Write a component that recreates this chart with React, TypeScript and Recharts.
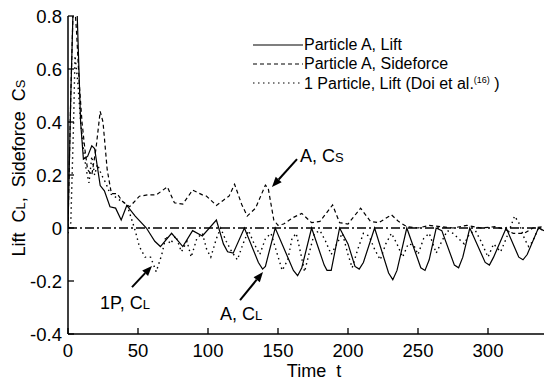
import React from 'react';
import { LineChart, Line, XAxis, YAxis, ReferenceLine, ReferenceDot, Legend } from 'recharts';

// Particle A, lift coefficient (solid)
const liftA = [
  { t: 0, v: 0 }, { t: 2, v: 0.5 }, { t: 4, v: 0.9 }, { t: 6, v: 0.9 }, { t: 9, v: 0.4 },
  { t: 11, v: 0.26 }, { t: 14, v: 0.27 }, { t: 17, v: 0.31 }, { t: 19, v: 0.3 }, { t: 23, v: 0.16 },
  { t: 26, v: 0.14 }, { t: 30, v: 0.08 }, { t: 34, v: 0.075 }, { t: 38, v: 0.03 }, { t: 42, v: 0.085 },
  { t: 48, v: 0.045 }, { t: 56, v: 0 }, { t: 62, v: -0.05 }, { t: 66, v: -0.07 }, { t: 74, v: -0.02 },
  { t: 82, v: -0.07 }, { t: 89, v: -0.01 }, { t: 96, v: -0.03 }, { t: 106, v: 0.03 }, { t: 111, v: -0.06 },
  { t: 114, v: -0.09 }, { t: 118, v: -0.095 }, { t: 126, v: 0 }, { t: 136, v: -0.13 }, { t: 139, v: -0.155 },
  { t: 141, v: -0.145 }, { t: 148, v: 0 }, { t: 161, v: -0.16 }, { t: 164, v: -0.18 }, { t: 167, v: -0.15 },
  { t: 174, v: 0 }, { t: 183, v: -0.14 }, { t: 185, v: -0.16 }, { t: 188, v: -0.16 }, { t: 194, v: 0 },
  { t: 200, v: -0.06 }, { t: 205, v: -0.145 }, { t: 208, v: -0.155 }, { t: 211, v: -0.13 }, { t: 219, v: 0 },
  { t: 229, v: -0.17 }, { t: 232, v: -0.195 }, { t: 235, v: -0.16 }, { t: 242, v: 0 }, { t: 252, v: -0.15 },
  { t: 255, v: -0.16 }, { t: 258, v: -0.12 }, { t: 263, v: 0 }, { t: 267, v: -0.01 }, { t: 276, v: -0.14 },
  { t: 279, v: -0.15 }, { t: 282, v: -0.11 }, { t: 287, v: 0 }, { t: 298, v: -0.13 }, { t: 301, v: -0.14 },
  { t: 304, v: -0.11 }, { t: 313, v: 0 }, { t: 322, v: -0.11 }, { t: 325, v: -0.12 }, { t: 328, v: -0.1 },
  { t: 336, v: 0 }, { t: 340, v: -0.01 },
];

// Particle A, sideforce coefficient (dashed)
const sideA = [
  { t: 0, v: 0 }, { t: 2, v: 0.5 }, { t: 4, v: 0.9 }, { t: 6, v: 0.75 }, { t: 8, v: 0.55 },
  { t: 10, v: 0.4 }, { t: 12, v: 0.3 }, { t: 14, v: 0.22 }, { t: 17, v: 0.2 }, { t: 20, v: 0.3 },
  { t: 23, v: 0.44 }, { t: 25, v: 0.4 }, { t: 28, v: 0.22 }, { t: 31, v: 0.13 }, { t: 35, v: 0.13 },
  { t: 39, v: 0.1 }, { t: 44, v: 0.08 }, { t: 51, v: 0.12 }, { t: 57, v: 0.125 }, { t: 63, v: 0.125 },
  { t: 71, v: 0.155 }, { t: 76, v: 0.095 }, { t: 82, v: 0.09 }, { t: 89, v: 0.143 }, { t: 96, v: 0.125 },
  { t: 99, v: 0.12 }, { t: 106, v: 0.085 }, { t: 111, v: 0.105 }, { t: 115, v: 0.12 }, { t: 119, v: 0.165 },
  { t: 124, v: 0.09 }, { t: 128, v: 0.045 }, { t: 134, v: 0.075 }, { t: 141, v: 0.162 }, { t: 143, v: 0.15 },
  { t: 147, v: 0.03 }, { t: 150, v: 0.01 }, { t: 154, v: 0.015 }, { t: 161, v: 0.04 }, { t: 167, v: 0.055 },
  { t: 174, v: 0.02 }, { t: 180, v: 0.025 }, { t: 189, v: 0.087 }, { t: 194, v: 0.02 }, { t: 200, v: 0.015 },
  { t: 209, v: 0.075 }, { t: 216, v: 0.025 }, { t: 222, v: 0.02 }, { t: 231, v: 0.05 }, { t: 236, v: 0.025 },
  { t: 242, v: 0.005 }, { t: 250, v: 0 }, { t: 258, v: 0.01 }, { t: 266, v: 0.005 }, { t: 275, v: 0 },
  { t: 285, v: 0.01 }, { t: 295, v: 0 }, { t: 305, v: 0.005 }, { t: 312, v: -0.005 }, { t: 318, v: -0.02 },
  { t: 326, v: -0.02 }, { t: 332, v: 0 }, { t: 340, v: 0.005 },
];

// 1 particle, lift (Doi et al.) (dotted)
const lift1P = [
  { t: 0, v: -0.02 }, { t: 2, v: 0.02 }, { t: 4, v: 0.4 }, { t: 5, v: 0.65 }, { t: 7, v: 0.55 },
  { t: 9, v: 0.4 }, { t: 11, v: 0.3 }, { t: 13, v: 0.22 }, { t: 15, v: 0.17 }, { t: 17, v: 0.27 },
  { t: 19, v: 0.2 }, { t: 21, v: 0.24 }, { t: 24, v: 0.2 }, { t: 27, v: 0.17 }, { t: 30, v: 0.13 },
  { t: 33, v: 0.12 }, { t: 37, v: 0.105 }, { t: 42, v: 0.09 }, { t: 45, v: 0.04 }, { t: 48, v: -0.01 },
  { t: 51, v: -0.07 }, { t: 55, v: -0.11 }, { t: 59, v: -0.11 }, { t: 63, v: -0.165 }, { t: 67, v: -0.1 },
  { t: 70, v: -0.03 }, { t: 73, v: -0.06 }, { t: 77, v: -0.03 }, { t: 81, v: -0.09 }, { t: 85, v: -0.05 },
  { t: 88, v: -0.11 }, { t: 92, v: -0.04 }, { t: 96, v: -0.02 }, { t: 99, v: -0.08 }, { t: 102, v: -0.11 },
  { t: 106, v: -0.04 }, { t: 109, v: 0 }, { t: 113, v: -0.05 }, { t: 117, v: -0.09 }, { t: 121, v: -0.12 },
  { t: 125, v: -0.06 }, { t: 129, v: -0.01 }, { t: 133, v: -0.06 }, { t: 137, v: -0.1 }, { t: 141, v: -0.04 },
  { t: 145, v: -0.02 }, { t: 149, v: -0.09 }, { t: 153, v: -0.16 }, { t: 157, v: -0.12 }, { t: 160, v: -0.04 },
  { t: 163, v: -0.02 }, { t: 166, v: -0.09 }, { t: 169, v: -0.165 }, { t: 172, v: -0.1 }, { t: 176, v: -0.02 },
  { t: 180, v: -0.01 }, { t: 184, v: -0.05 }, { t: 188, v: -0.1 }, { t: 192, v: -0.06 }, { t: 196, v: -0.02 },
  { t: 200, v: -0.1 }, { t: 203, v: -0.15 }, { t: 207, v: -0.08 }, { t: 211, v: -0.02 }, { t: 215, v: -0.03 },
  { t: 219, v: -0.08 }, { t: 223, v: -0.12 }, { t: 227, v: -0.06 }, { t: 231, v: -0.02 }, { t: 235, v: -0.06 },
  { t: 239, v: -0.11 }, { t: 243, v: -0.06 }, { t: 247, v: -0.065 }, { t: 250, v: -0.1 }, { t: 254, v: -0.04 },
  { t: 258, v: -0.02 }, { t: 263, v: -0.095 }, { t: 267, v: -0.05 }, { t: 271, v: -0.01 }, { t: 275, v: -0.02 },
  { t: 279, v: -0.04 }, { t: 283, v: -0.06 }, { t: 287, v: -0.02 }, { t: 291, v: -0.01 }, { t: 295, v: -0.05 },
  { t: 300, v: -0.11 }, { t: 304, v: -0.06 }, { t: 309, v: -0.09 }, { t: 313, v: -0.04 }, { t: 319, v: 0.045 },
  { t: 322, v: 0.02 }, { t: 326, v: -0.04 }, { t: 329, v: -0.07 }, { t: 332, v: -0.05 }, { t: 336, v: 0 },
  { t: 340, v: -0.01 },
];

const xTicks = [0, 50, 100, 150, 200, 250, 300];
const yTicks = [-0.4, -0.2, 0, 0.2, 0.4, 0.6, 0.8];

const FONT = '"Liberation Sans", Arial, Helvetica, sans-serif';
const SP = '\u00A0';

const BottomTick = ({ x, y, payload }: any) => (
  <g>
    <line x1={x} y1={y} x2={x} y2={y - 6} stroke="#000" strokeWidth={1.3} />
    <text x={x} y={y + 23} textAnchor="middle" fontSize={18.5} fontFamily={FONT} fill="#000">{payload.value}</text>
  </g>
);
const TopTick = ({ x, y }: any) => <line x1={x} y1={y} x2={x} y2={y + 6} stroke="#000" strokeWidth={1.3} />;
const LeftTick = ({ x, y, payload }: any) => (
  <g>
    <line x1={x} y1={y} x2={x + 6} y2={y} stroke="#000" strokeWidth={1.3} />
    <text x={x - 6} y={y + 7} textAnchor="end" fontSize={18.5} fontFamily={FONT} fill="#000">{String(payload.value)}</text>
  </g>
);
const RightTick = ({ x, y }: any) => <line x1={x} y1={y} x2={x - 6} y2={y} stroke="#000" strokeWidth={1.3} />;

const Arrow = ({ x1, y1, x2, y2 }: any) => {
  const a = Math.atan2(y2 - y1, x2 - x1);
  const L = 10, W = 4;
  const bx = x2 - L * Math.cos(a), by = y2 - L * Math.sin(a);
  const p1 = `${bx + W * Math.sin(a)},${by - W * Math.cos(a)}`;
  const p2 = `${bx - W * Math.sin(a)},${by + W * Math.cos(a)}`;
  return (
    <g>
      <line x1={x1} y1={y1} x2={bx} y2={by} stroke="#000" strokeWidth={2} />
      <polygon points={`${x2},${y2} ${p1} ${p2}`} fill="#000" />
    </g>
  );
};

const noteLabel = (main: string, sub: string) => ({ cx, cy }: any) => (
  <text x={cx} y={cy + 7} fontSize={18} fontFamily={FONT} fill="#000">
    {main}<tspan fontSize={13}>{sub}</tspan>
  </text>
);

const YLabel = () => (
  <text x={25} y={168} transform="rotate(-90, 25, 168)" textAnchor="middle" fontSize={18} fontFamily={FONT} fill="#000">
    {`Lift${SP}${SP}C`}<tspan fontSize={13}>L</tspan>{`,${SP}${SP}Sideforce${SP}${SP}C`}<tspan fontSize={13}>S</tspan>
  </text>
);
const XLabel = () => (
  <text x={314} y={377} textAnchor="middle" fontSize={18} fontFamily={FONT} fill="#000">{`Time${SP}${SP}t`}</text>
);

const legendItems = [
  { dash: undefined, label: <>Particle A, Lift</> },
  { dash: '4 3', label: <>Particle A, Sideforce</> },
  { dash: '1.5 3.5', label: <>1 Particle, Lift (Doi et al.<sup style={{ fontSize: 9 }}>(16)</sup> )</> },
];

const LegendBox = () => (
  <div style={{ fontFamily: FONT, fontSize: 16, color: '#000' }}>
    {legendItems.map((it, i) => (
      <div key={i} style={{ display: 'flex', alignItems: 'center', height: 19, whiteSpace: 'nowrap' }}>
        <svg width={52} height={19}>
          <line x1={1} y1={10} x2={51} y2={10} stroke="#000" strokeWidth={1.2} strokeDasharray={it.dash} />
        </svg>
        <span style={{ lineHeight: '19px' }}>{it.label}</span>
      </div>
    ))}
  </div>
);

export default function App() {
  return (
    <div style={{ position: 'absolute', left: 0, top: 0, background: '#fff' }}>
      <LineChart width={545} height={381} margin={{ top: 16, right: 1, left: 0, bottom: 0 }}>
        <XAxis dataKey="t" type="number" domain={[0, 340]} ticks={xTicks} allowDataOverflow
          height={47} tickSize={0} tickMargin={0} tick={<BottomTick />} tickLine={false}
          axisLine={{ stroke: '#000', strokeWidth: 1.5 }} label={{ content: <XLabel /> }} />
        <XAxis xAxisId="top" orientation="top" type="number" domain={[0, 340]} ticks={xTicks} allowDataOverflow
          height={0} tickSize={0} tickMargin={0} tick={<TopTick />} tickLine={false}
          axisLine={{ stroke: '#000', strokeWidth: 1.5 }} />
        <YAxis type="number" domain={[-0.4, 0.8]} ticks={yTicks} allowDataOverflow
          width={68} tickSize={0} tickMargin={0} tick={<LeftTick />} tickLine={false}
          axisLine={{ stroke: '#000', strokeWidth: 1.5 }} label={{ content: <YLabel /> }} />
        <YAxis yAxisId="right" orientation="right" type="number" domain={[-0.4, 0.8]} ticks={yTicks} allowDataOverflow
          width={0} tickSize={0} tickMargin={0} tick={<RightTick />} tickLine={false}
          axisLine={{ stroke: '#000', strokeWidth: 1.5 }} />
        <ReferenceLine y={0} stroke="#000" strokeWidth={1.6} strokeDasharray="9 3 2 3" />
        <Line data={lift1P} dataKey="v" type="linear" stroke="#000" strokeWidth={1.4}
          strokeDasharray="1.5 3.5" dot={false} isAnimationActive={false} />
        <Line data={sideA} dataKey="v" type="linear" stroke="#000" strokeWidth={1.2}
          strokeDasharray="4 3" dot={false} isAnimationActive={false} />
        <Line data={liftA} dataKey="v" type="linear" stroke="#000" strokeWidth={1.2}
          dot={false} isAnimationActive={false} />
        <ReferenceLine segment={[{ x: 163.6, y: 0.26 }, { x: 145.7, y: 0.155 }]} shape={<Arrow />} />
        <ReferenceLine segment={[{ x: 45.7, y: -0.223 }, { x: 60, y: -0.143 }]} shape={<Arrow />} />
        <ReferenceLine segment={[{ x: 122.9, y: -0.272 }, { x: 139.3, y: -0.166 }]} shape={<Arrow />} />
        <ReferenceDot x={165.7} y={0.275} r={0} shape={noteLabel('A, C', 'S')} />
        <ReferenceDot x={22.9} y={-0.28} r={0} shape={noteLabel('1P, C', 'L')} />
        <ReferenceDot x={108.6} y={-0.32} r={0} shape={noteLabel('A, C', 'L')} />
        <Legend layout="horizontal" verticalAlign="middle" align="center"
          wrapperStyle={{ top: 35, left: 252, width: 293, height: 57 }} content={<LegendBox />} />
      </LineChart>
    </div>
  );
}
